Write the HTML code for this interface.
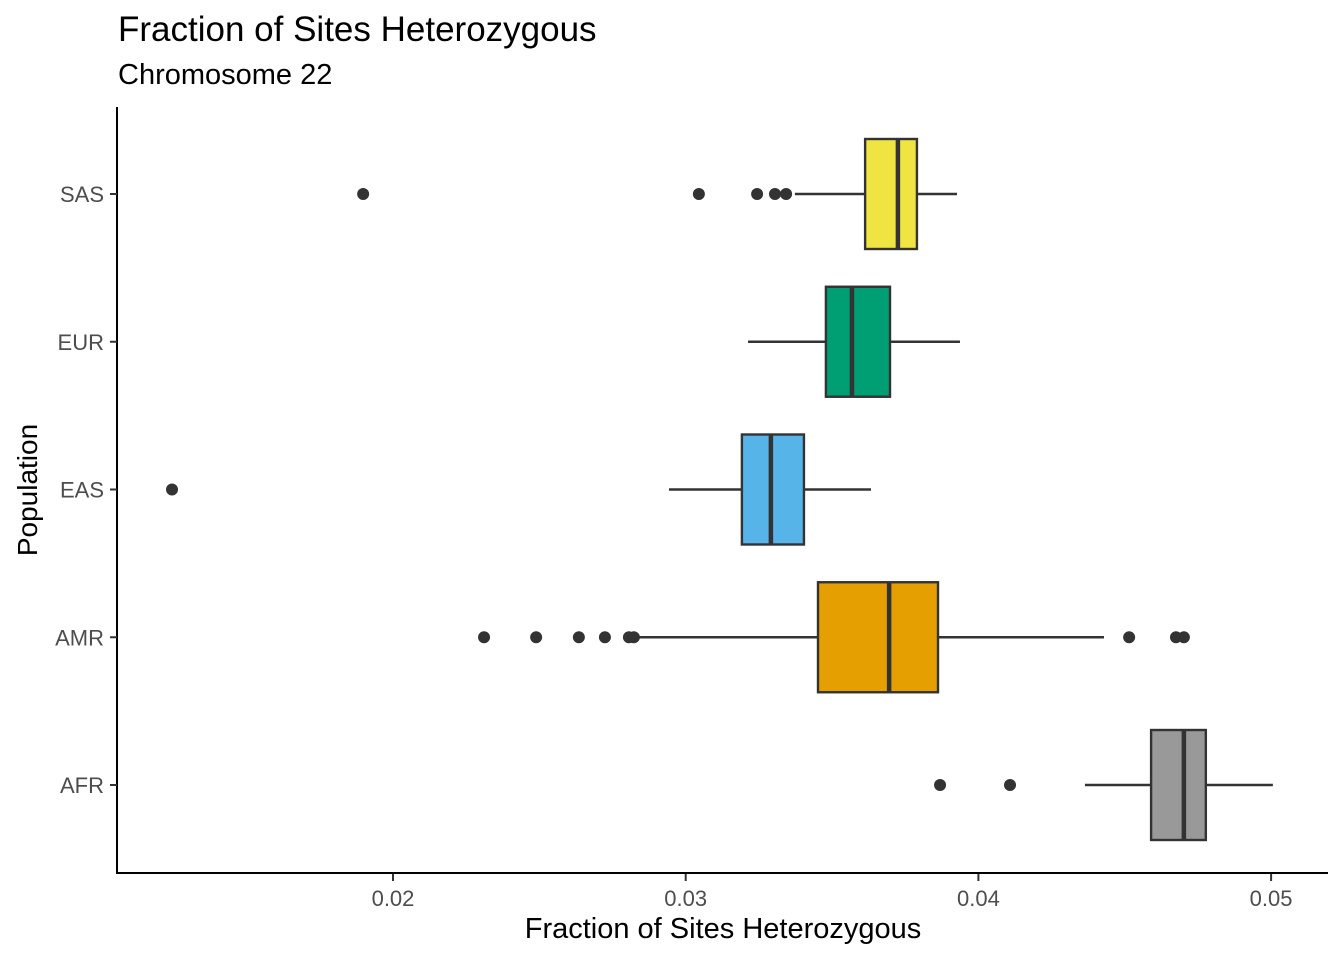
<!DOCTYPE html>
<html><head><meta charset="utf-8"><style>
html,body{margin:0;padding:0;background:#fff;}
svg{display:block;font-family:"Liberation Sans",sans-serif;}
</style></head><body>
<svg id="chart" width="1344" height="960">
<text x="118" y="41" font-size="35" fill="#000">Fraction of Sites Heterozygous</text>
<text x="118" y="84" font-size="29" fill="#000">Chromosome 22</text>
<line x1="117" y1="107" x2="117" y2="874" stroke="#000" stroke-width="2"/>
<line x1="116" y1="873" x2="1328" y2="873" stroke="#000" stroke-width="2"/>
<text x="723" y="938" font-size="29" text-anchor="middle" fill="#000">Fraction of Sites Heterozygous</text>
<text transform="translate(37,490) rotate(-90)" font-size="28" text-anchor="middle" fill="#000">Population</text>
<g id="marks"></g>
</svg>
<script>
const categories = ["SAS","EUR","EAS","AMR","AFR"];
const colors = ["#F0E442","#009E73","#56B4E9","#E69F00","#999999"];
const whiskerLow = [0.03373,0.03213,0.02943,0.02803,0.04364];
const q1 = [0.03613,0.03479,0.03192,0.03452,0.0459];
const median = [0.03725,0.03568,0.03291,0.03695,0.04702];
const q3 = [0.0379,0.03698,0.03404,0.03862,0.04777];
const whiskerHigh = [0.03927,0.03937,0.03633,0.04429,0.05006];
const outliers = [
  [0.01898,0.03045,0.03244,0.03305,0.03343],
  [],
  [0.01245],
  [0.02311,0.02489,0.02635,0.02724,0.02806,0.02823,0.04515,0.04675,0.04702],
  [0.03869,0.04108]
];
const xTicks = [0.02,0.03,0.04,0.05];
const xTickLabels = ["0.02","0.03","0.04","0.05"];

const NS = "http://www.w3.org/2000/svg";
const g = document.getElementById("marks");
function x(v){ return 393 + (v - 0.02) * 29270; }
function y(i){ return 194 + i * 147.75; }
const bh = 110;
function mk(tag, attrs){ const e = document.createElementNS(NS, tag); for (const k in attrs) e.setAttribute(k, attrs[k]); g.appendChild(e); return e; }

xTicks.forEach((t,i)=>{
  const l = mk("line",{x1:x(t),x2:x(t),y1:874,y2:881,stroke:"#333","stroke-width":2});
  
  
  const tx = mk("text",{x:x(t),y:906,"font-size":22,"text-anchor":"middle",fill:"#4d4d4d"});
  tx.textContent = xTickLabels[i];
  
  
});

categories.forEach((c,i)=>{
  const cy = y(i);
  const tk = mk("line",{x1:110,x2:117,y1:cy,y2:cy,stroke:"#333","stroke-width":2});
  
  
  const lb = mk("text",{x:104,y:cy+8,"font-size":22,"text-anchor":"end",fill:"#4d4d4d"});
  lb.textContent = c;
  
  

  const w1 = mk("line",{x1:x(whiskerLow[i]),x2:x(q1[i]),y1:cy,y2:cy,stroke:"#333","stroke-width":2.4});
  
  
  const w2 = mk("line",{x1:x(q3[i]),x2:x(whiskerHigh[i]),y1:cy,y2:cy,stroke:"#333","stroke-width":2.4});
  
  
  const r = mk("rect",{x:x(q1[i]),y:cy-bh/2,width:x(q3[i])-x(q1[i]),height:bh,fill:colors[i],stroke:"#333","stroke-width":2.4});
  
  
  const m = mk("line",{x1:x(median[i]),x2:x(median[i]),y1:cy-bh/2,y2:cy+bh/2,stroke:"#333","stroke-width":4.5});
  
  
  outliers[i].forEach(v=>{
    const p = mk("circle",{cx:x(v),cy:cy,r:6,fill:"#333"});
    
    
  });
});
</script>
</body></html>
